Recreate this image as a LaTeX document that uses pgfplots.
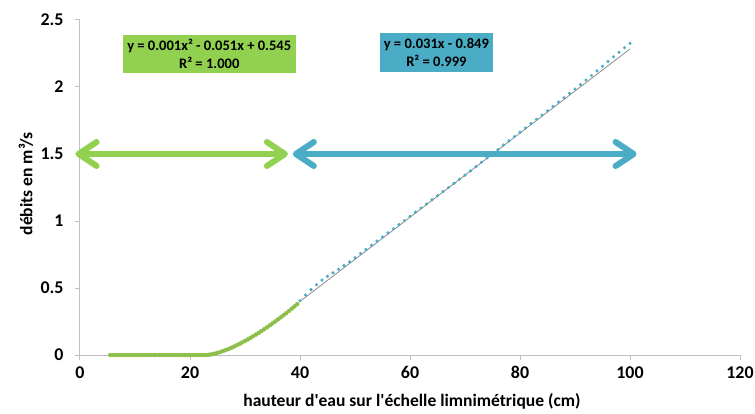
\documentclass[border=0pt]{standalone}
\usepackage{pgfplots}
\pgfplotsset{compat=1.18}
\usepackage{fontspec}
\setmainfont{Carlito}
\usetikzlibrary{arrows.meta}

\definecolor{vert}{HTML}{92D050}
\definecolor{vertfonce}{HTML}{8CC04A}
\definecolor{bleu}{HTML}{4BACC6}
\definecolor{axe}{HTML}{BFBFBF}

% hauteur (cm) / debit (m3/s), partie basse
\pgfplotstableread{
x y
5.5 0
6 0
6.5 0
7 0
7.5 0
8 0
8.5 0
9 0
9.5 0
10 0
10.5 0
11 0
11.5 0
12 0
12.5 0
13 0
13.5 0
14 0
14.5 0
15 0
15.5 0
16 0
16.5 0
17 0
17.5 0
18 0
18.5 0
19 0
19.5 0
20 0
20.5 0
21 0
21.5 0
22 0
22.5 0
23 0
23.5 0.002
24 0.006
24.5 0.010
25 0.016
25.5 0.022
26 0.030
26.5 0.037
27 0.045
27.5 0.054
28 0.063
28.5 0.073
29 0.083
29.5 0.094
30 0.105
30.5 0.116
31 0.128
31.5 0.141
32 0.153
32.5 0.166
33 0.179
33.5 0.193
34 0.207
34.5 0.221
35 0.236
35.5 0.251
36 0.266
36.5 0.281
37 0.297
37.5 0.313
38 0.329
38.5 0.346
39 0.363
39.5 0.380
}\basse

% partie haute
\pgfplotstableread{
x y
40 0.405
41 0.448
42 0.488
43 0.524
44 0.559
45 0.587
46 0.613
47 0.640
48 0.667
49 0.696
50 0.726
51 0.757
52 0.788
53 0.819
54 0.850
55 0.880
56 0.911
57 0.942
58 0.973
59 1.004
60 1.035
61 1.066
62 1.097
63 1.127
64 1.158
65 1.189
66 1.219
67 1.250
68 1.281
69 1.312
70 1.342
71 1.374
72 1.406
73 1.438
74 1.471
75 1.502
76 1.534
77 1.567
78 1.598
79 1.631
80 1.663
81 1.694
82 1.727
83 1.759
84 1.791
85 1.823
86 1.855
87 1.888
88 1.920
89 1.953
90 1.985
91 2.018
92 2.052
93 2.086
94 2.120
95 2.155
96 2.190
97 2.226
98 2.259
99 2.293
100 2.326
}\haute

\begin{document}
\begin{tikzpicture}
\path[use as bounding box] (-80bp,-59bp) rectangle (675bp,355bp);
\begin{axis}[
    scale only axis,
    width=660bp, height=335bp,
    xmin=0, xmax=120, ymin=0, ymax=2.5,
    xtick={0,20,...,120},
    ytick={0,0.5,...,2.5},
    axis x line=bottom, axis y line=left,
    axis line style={-, draw=axe, line width=1bp},
    tick style={draw=axe, line width=1bp},
    tick align=outside,
    major tick length=5bp,
    clip=false,
    /pgf/number format/assume math mode=true,
    ticklabel style={font=\bfseries\fontsize{18}{20}\selectfont},
    xticklabel style={yshift=-3bp},
    yticklabel style={xshift=-8bp},
    xlabel={hauteur d\textquotesingle eau sur l\textquotesingle échelle limnimétrique (cm)},
    ylabel={débits en m³/s},
    label style={font=\bfseries\fontsize{17.6}{20}\selectfont},
    xlabel style={at={(axis description cs:0.503,-0.137)}, anchor=center},
    ylabel style={at={(axis description cs:-0.082,0.51)}, anchor=center, rotate=0},
]
% points mesures
\addplot[vertfonce, only marks, mark=*, mark size=2bp,
    mark options={draw=none, fill=vertfonce}]
    table[x=x, y=y] {\basse};
% courbe de tendance polynomiale
\addplot[black!75, line width=0.6bp, no marks]
    table[x=x, y=y, skip coords between index={0}{35}] {\basse};
% tendance lineaire
\addplot[gray!90, line width=0.8bp, no marks] coordinates {(40,0.400) (100,2.284)};
\addplot[bleu, only marks, mark=*, mark size=1.4bp,
    mark options={draw=none, fill=bleu}]
    table[x=x, y=y] {\haute};

% fleches des domaines
\addplot[vert, line width=6bp, line cap=round, no marks,
    {Straight Barb[length=18bp, width=24bp, round]}-{Straight Barb[length=18bp, width=24bp, round]}]
    coordinates {(-0.8,1.5) (37.8,1.5)};
\addplot[bleu, line width=6bp, line cap=round, no marks,
    {Straight Barb[length=18bp, width=24bp, round]}-{Straight Barb[length=18bp, width=24bp, round]}]
    coordinates {(38.7,1.5) (101.2,1.5)};

% equations
\node[fill=vert, minimum width=173bp, minimum height=38bp, inner sep=0pt,
    align=center, font=\bfseries\fontsize{14.6}{17.7}\selectfont]
    at (axis cs:23.5,2.246) {y = 0.001x² - 0.051x + 0.545\\R² = 1.000};
\node[fill=bleu, minimum width=113bp, minimum height=39bp, inner sep=0pt,
    align=center, font=\bfseries\fontsize{14.6}{17.7}\selectfont]
    at (axis cs:64.8,2.256) {y = 0.031x - 0.849\\R² = 0.999};
\end{axis}
\end{tikzpicture}
\end{document}
